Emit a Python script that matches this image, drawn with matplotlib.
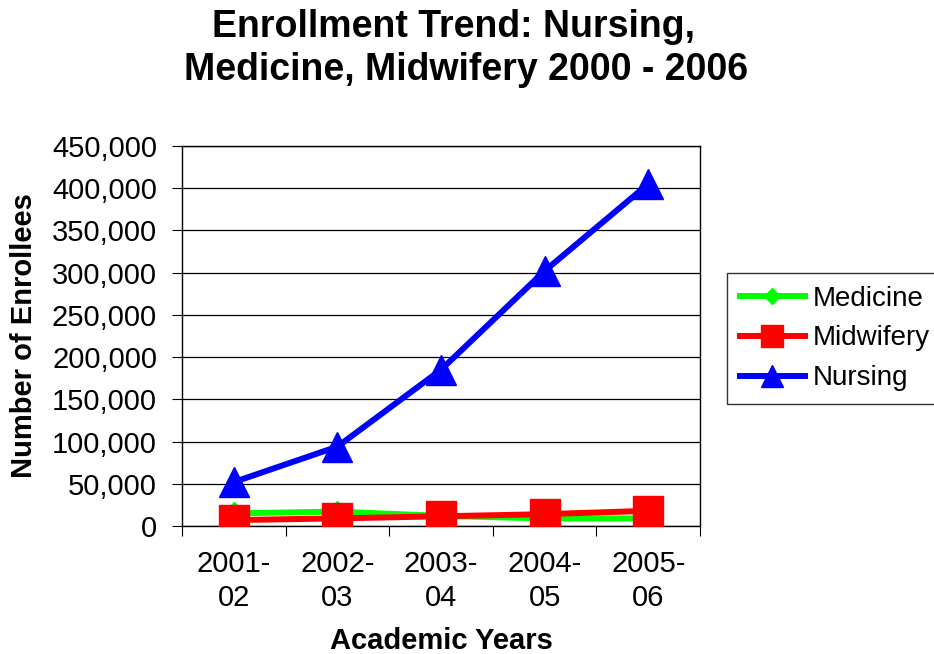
import matplotlib.pyplot as plt
import matplotlib.ticker as ticker

plt.rcParams['font.family'] = ['Liberation Sans', 'DejaVu Sans']

years = ["2001-\n02", "2002-\n03", "2003-\n04", "2004-\n05", "2005-\n06"]
medicine = [15000, 17000, 12000, 9000, 9000]
midwifery = [7000, 9000, 11500, 14000, 18000]
nursing = [52000, 94000, 185000, 302000, 405000]

fig = plt.figure(figsize=(9.34, 6.54), dpi=100)
ax = fig.add_axes([182 / 934, 1 - 526 / 654, 518 / 934, 380 / 654])

x = list(range(len(years)))
ax.plot(x, medicine, color='#00ff00', lw=4.3, marker='D', ms=11, label='Medicine', zorder=3)
ax.plot(x, midwifery, color='#ff0000', lw=4.3, marker='s', ms=22, label='Midwifery', zorder=4)
ax.plot(x, nursing, color='#0000ff', lw=4.3, marker='^', ms=22, label='Nursing', zorder=5)

ax.set_xlim(-0.5, len(years) - 0.5)
ax.set_ylim(0, 450000)
ax.yaxis.set_major_locator(ticker.MultipleLocator(50000))
ax.yaxis.set_major_formatter(ticker.FuncFormatter(lambda v, p: f"{int(v):,}"))
ax.set_xticks([i - 0.5 for i in range(len(years) + 1)])
ax.set_xticklabels([])
ax.set_xticks(x, minor=True)
ax.set_xticklabels(years, minor=True, fontsize=21, linespacing=1.3)
ax.tick_params(axis='x', which='minor', length=0, pad=17)
ax.tick_params(axis='x', which='major', length=7, direction='out', color='black')
ax.tick_params(axis='y', labelsize=21, length=7, direction='out', pad=11)
ax.grid(axis='y', color='black', lw=0.9)
for s in ax.spines.values():
    s.set_color('black')
    s.set_linewidth(1)

ax.set_ylabel('Number of Enrollees', fontsize=21, fontweight='bold', labelpad=10)
ax.set_xlabel('Academic Years', fontsize=21, fontweight='bold', labelpad=11)
fig.text(453 / 934, 1 - 37 / 654, 'Enrollment Trend: Nursing,', ha='center',
         va='baseline', fontsize=27, fontweight='bold')
fig.text(466 / 934, 1 - 80 / 654, 'Medicine, Midwifery 2000 - 2006', ha='center',
         va='baseline', fontsize=27, fontweight='bold')

leg = ax.legend(loc='upper left', bbox_to_anchor=(727 / 934, 1 - 273 / 654),
                bbox_transform=fig.transFigure, fontsize=20, frameon=True,
                fancybox=False, edgecolor='black', handlelength=2.35,
                markerscale=0.75, borderpad=0.45, labelspacing=0.5,
                handletextpad=0.3, borderaxespad=0)
leg.get_frame().set_linewidth(1)

fig.savefig('out.png', dpi=100)
